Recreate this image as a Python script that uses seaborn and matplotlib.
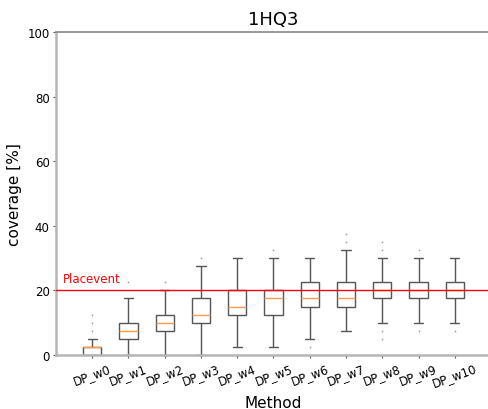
import numpy as np
import pandas as pd
import matplotlib
matplotlib.use("Agg")
import matplotlib.pyplot as plt
import seaborn as sns

# Coverage samples (%) per window setting
methods = ["DP_w0", "DP_w1", "DP_w2", "DP_w3", "DP_w4", "DP_w5",
           "DP_w6", "DP_w7", "DP_w8", "DP_w9", "DP_w10"]
dp_w0 = [0, 0, 0, 0, 0, 0, 2.5, 2.5, 2.5, 2.5, 2.5, 2.5, 2.5, 5, 7.5, 10, 12.5]
dp_w1 = [0, 2.5, 5, 5, 7.5, 10, 10, 17.5, 22.5]
dp_w2 = [0, 5, 7.5, 7.5, 10, 12.5, 12.5, 20, 22.5]
dp_w3 = [0, 5, 10, 10, 12.5, 15, 17.5, 27.5, 30]
dp_w4 = [2.5, 10, 12.5, 12.5, 15, 17.5, 20, 22.5, 30]
dp_w5 = [2.5, 10, 12.5, 15, 17.5, 20, 20, 30, 32.5]
dp_w6 = [2.5, 5, 15, 15, 17.5, 20, 22.5, 25, 30]
dp_w7 = [7.5, 10, 12.5, 15, 15, 17.5, 17.5, 20, 20, 22.5, 32.5, 35, 37.5]
dp_w8 = [5, 7.5, 10, 17.5, 17.5, 20, 20, 20, 22.5, 22.5, 30, 32.5, 35]
dp_w9 = [7.5, 10, 17.5, 20, 20, 20, 22.5, 30, 32.5]
dp_w10 = [7.5, 10, 17.5, 20, 20, 20, 22.5, 25, 30]

placevent_coverage = 20.0
title = "1HQ3"

samples = [dp_w0, dp_w1, dp_w2, dp_w3, dp_w4, dp_w5,
           dp_w6, dp_w7, dp_w8, dp_w9, dp_w10]
df = pd.DataFrame({
    "Method": np.repeat(methods, [len(s) for s in samples]),
    "coverage": np.concatenate(samples),
})

sns.set_style("white")
plt.rcParams["font.family"] = ["DejaVu Sans"]
plt.rcParams["text.color"] = "black"
plt.rcParams["axes.labelcolor"] = "black"
plt.rcParams["xtick.labelcolor"] = "black"
plt.rcParams["ytick.labelcolor"] = "black"

fig = plt.figure(figsize=(4.89, 4.10), dpi=100)
ax = fig.add_axes([0.1145, 0.1317, 0.8896, 0.7878])

line_col = "#555555"
sns.boxplot(
    data=df, x="Method", y="coverage", order=methods, ax=ax,
    color="white", linecolor=line_col, linewidth=1.0, width=0.5,
    whis=1.5, fliersize=1.2,
    medianprops={"color": "#ff9a4d", "linewidth": 1.0},
    flierprops={"marker": "o", "markerfacecolor": "#999999",
                "markeredgecolor": "none", "markersize": 1.2},
)

ax.axhline(placevent_coverage, color="red", linewidth=1.0, zorder=5)
ax.text(-0.8, placevent_coverage + 1.6, "Placevent", color="red",
        fontsize=8.5, ha="left", va="bottom")

ax.set_xlim(-1, 11)
ax.set_ylim(0, 100)
ax.set_yticks(np.arange(0, 101, 20))
ax.set_title(title, fontsize=13, pad=6, color="black")
ax.set_xlabel("Method", fontsize=11)
ax.set_ylabel("coverage [%]", fontsize=11)
ax.tick_params(axis="both", which="major", labelsize=8.5, length=2.5,
               width=0.8, color="#555555", bottom=True, left=True, pad=2)
plt.setp(ax.get_xticklabels(), rotation=20, ha="center")

for side in ("left", "bottom"):
    ax.spines[side].set_color("#b5b5b5")
    ax.spines[side].set_linewidth(1.8)
ax.spines["top"].set_color("#888888")
ax.spines["top"].set_linewidth(1.2)
ax.spines["right"].set_visible(False)

fig.savefig("out.png", dpi=100)
